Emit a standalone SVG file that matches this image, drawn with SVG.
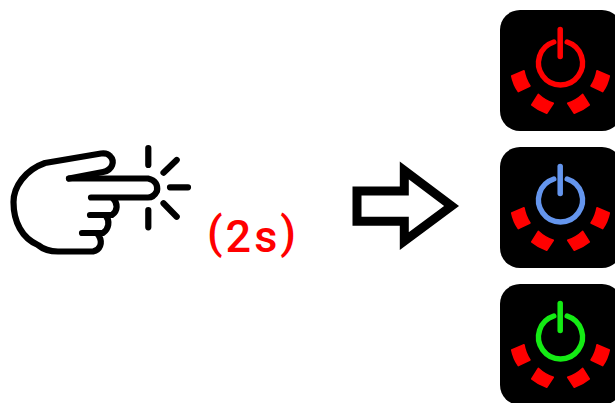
<svg xmlns="http://www.w3.org/2000/svg" width="615" height="403" viewBox="0 0 615 403">
<style>
.ink{fill:none;stroke:#000;stroke-width:6.200;stroke-linecap:round;stroke-linejoin:round}
.ring{fill:none;stroke-width:5.400;stroke-linecap:round}
.stem{stroke-width:5.500;stroke-linecap:round}
.seg{fill:#f00;stroke:#f00;stroke-width:1.500;stroke-linejoin:round}
.label{font-family:"Roboto","Liberation Sans",sans-serif;font-size:45px;font-weight:500;letter-spacing:3px;fill:#f00}
</style>
<defs>
<g id="panel">
<rect x="0" y="0" width="122" height="121" rx="20" ry="20" fill="#000"/>
<path class="seg" d="M11.700,66 L24,60.700 A38,38 0 0 0 30,76 L18.300,81.700 A44,44 0 0 1 11.700,66Z"/>
<path class="seg" d="M38.300,84.300 A40,40 0 0 0 53.300,93.300 L46.700,103.300 A46,46 0 0 1 31.700,95Z"/>
<path class="seg" d="M109.300,66 L97,60.700 A38,38 0 0 1 91,76 L102.700,81.700 A44,44 0 0 0 109.300,66Z"/>
<path class="seg" d="M82.700,84.300 A40,40 0 0 1 67.700,93.300 L74.300,103.300 A46,46 0 0 0 89.300,95Z"/>
</g>
</defs>
<g id="hand">
<path class="ink" d="M69,178.500 L103,172 C113,170 115,161 110,156 C108,153.500 105,153 101,153.500 L45,163 C25,170 13.500,187 13.500,202 C13.500,222 22,238 38,245 C44,250 50,251.500 58,251.500 L93,251.500 C100,250 103,243 99,236 L97,233 L82,233"/>
<path class="ink" d="M69,178.500 L148,178.500 C156,180 158,186 157,191 C155,195 152,197.500 148,197.500 L91,197.500"/>
<path class="ink" d="M113,198.500 C118,203 118,211 112,215 L90,215"/>
<path class="ink" d="M106,216 C110,221 109,229 103,233 L97,233"/>
</g>
<g id="spark">
<path class="ink" d="M148.300,148 V165 M163.500,172.700 L176.700,160 M170,187.300 H188 M163.500,203.300 L176.700,216.700 M148.300,210 V227.300"/>
</g>
<text id="time" class="label" x="207" y="248">(<tspan dy="3.500">2s</tspan><tspan dy="-3.500">)</tspan></text>
<g id="connectors">
<path d="M357,191 H404.300 V170.500 L451.500,206 L404.300,241 V221.300 H357Z" fill="#fff" stroke="#000" stroke-width="9"/>
</g>
<g id="button-red" transform="translate(500,10)">
<use href="#panel"/>
<path class="ring" stroke="#f00" d="M53.800,32 A22,22 0 1 0 67.200,32"/>
<line class="stem" stroke="#f00" x1="60.200" y1="19.500" x2="60.200" y2="46.500"/>
</g>
<g id="button-blue" transform="translate(500,147)">
<use href="#panel"/>
<path class="ring" stroke="#6495ed" d="M53.800,32 A22,22 0 1 0 67.200,32"/>
<line class="stem" stroke="#6495ed" x1="60.200" y1="19.500" x2="60.200" y2="46.500"/>
</g>
<g id="button-green" transform="translate(500,284)">
<use href="#panel"/>
<path class="ring" stroke="#14eb14" d="M53.800,32 A22,22 0 1 0 67.200,32"/>
<line class="stem" stroke="#14eb14" x1="60.200" y1="19.500" x2="60.200" y2="46.500"/>
</g>
</svg>
